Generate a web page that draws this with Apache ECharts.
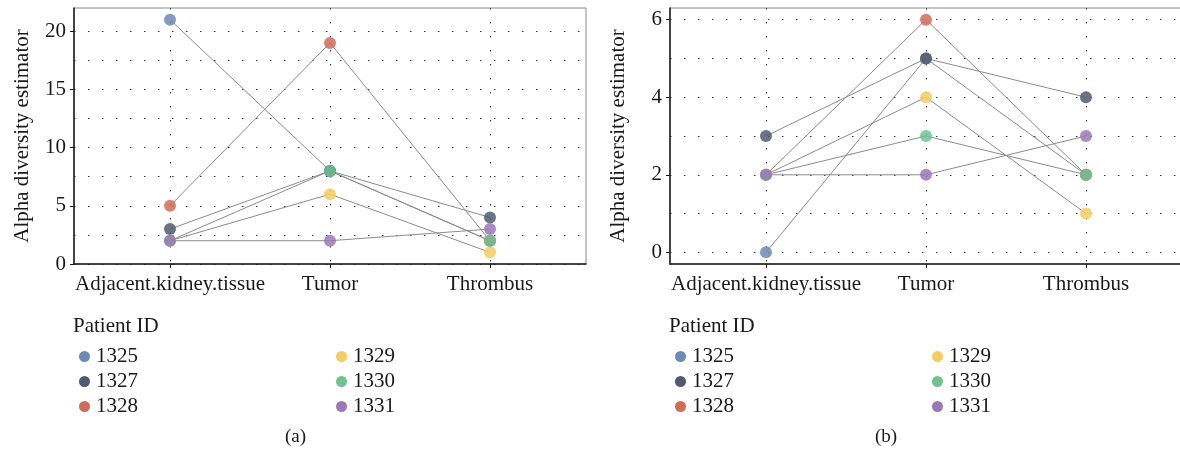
<!DOCTYPE html>
<html>
<head>
<meta charset="utf-8">
<script src="https://cdn.jsdelivr.net/npm/echarts@6/dist/echarts.min.js"></script>
<style>
  html, body { margin: 0; padding: 0; background: #fff; }
  #charts { width: 1180px; height: 457px; }
</style>
</head>
<body>
<div id="charts"></div>
<script>
// sample groups on the x axis (placed at 1, 2, 3)
var categories = ['Adjacent.kidney.tissue', 'Tumor', 'Thrombus'];
var patients = ['1325', '1327', '1328', '1329', '1330', '1331'];
var colors = ['#6d89b4', '#4f5c6e', '#cf6e58', '#f3cd63', '#6fc391', '#9b78b9'];

// panel (a): values per patient, order = categories
var valuesA = [
    [21, 8, 2],
    [3, 8, 4],
    [5, 19, 2],
    [2, 6, 1],
    [2, 8, 2],
    [2, 2, 3]
];
// panel (b)
var valuesB = [
    [0, 5, 2],
    [3, 5, 4],
    [2, 6, 2],
    [2, 4, 1],
    [2, 3, 2],
    [2, 2, 3]
];

var yTicksA = [0, 5, 10, 15, 20];
var yGridA = [0, 2.5, 5, 7.5, 10, 12.5, 15, 17.5, 20];
var yTicksB = [0, 2, 4, 6];
var yGridB = [0, 1, 2, 3, 4, 5, 6];

var font = 'Liberation Serif';
var fs = 21;
var dots = { color: '#3a3a3a', width: 1, type: [1.5, 12.5] };

function makeX(gridIndex) {
    return {
        type: 'value', gridIndex: gridIndex, min: 0.4, max: 3.6,
        axisLine: { show: true, onZero: false, lineStyle: { color: '#1a1a1a', width: 1.5 } },
        axisTick: { show: true, length: 4, customValues: [1, 2, 3], lineStyle: { color: '#1a1a1a' } },
        axisLabel: {
            customValues: [1, 2, 3], margin: 10,
            fontFamily: font, fontSize: fs, color: '#1a1a1a',
            formatter: function (v) { return categories[Math.round(v) - 1]; }
        },
        splitLine: { show: true, lineStyle: dots }
    };
}

function makeY(gridIndex, min, max, ticks) {
    return {
        type: 'value', gridIndex: gridIndex, min: min, max: max,
        name: 'Alpha diversity estimator', nameLocation: 'middle', nameGap: 41,
        nameTextStyle: { fontFamily: font, fontSize: fs, color: '#1a1a1a' },
        axisLine: { show: true, onZero: false, lineStyle: { color: '#1a1a1a', width: 1.5 } },
        axisTick: { show: true, length: 4, customValues: ticks, lineStyle: { color: '#1a1a1a' } },
        axisLabel: { customValues: ticks, margin: 8, fontFamily: font, fontSize: fs, color: '#1a1a1a' },
        splitLine: { show: false }
    };
}

// hidden axis only used for the dotted horizontal grid (majors + minors)
function makeYGrid(gridIndex, min, max, grid) {
    return {
        type: 'value', gridIndex: gridIndex, min: min, max: max,
        axisLine: { show: false },
        axisTick: { show: false, customValues: grid },
        axisLabel: { show: false },
        splitLine: { show: true, lineStyle: dots }
    };
}

function buildSeries(values, xi, yi) {
    var out = [];
    values.forEach(function (row, p) {
        var pts = row.map(function (v, c) { return [c + 1, v]; });
        out.push({
            type: 'line', xAxisIndex: xi, yAxisIndex: yi, data: pts,
            symbol: 'none', silent: true, z: 3,
            lineStyle: { color: '#8c8c8c', width: 1 }
        });
    });
    values.forEach(function (row, p) {
        var pts = row.map(function (v, c) { return [c + 1, v]; });
        out.push({
            type: 'scatter', name: patients[p], xAxisIndex: xi, yAxisIndex: yi, data: pts,
            symbolSize: 12, z: 4,
            itemStyle: { color: colors[p], opacity: 0.85 }
        });
    });
    return out;
}

function makeLegend(left, top, names) {
    return {
        left: left, top: top, orient: 'vertical', icon: 'circle',
        itemWidth: 11, itemHeight: 11, itemGap: 4,
        itemStyle: { opacity: 1 },
        textStyle: { fontFamily: font, fontSize: fs, color: '#1a1a1a', lineHeight: 21, padding: [0, 0, 0, 1] },
        data: names
    };
}

var titleStyle = { fontFamily: font, fontSize: fs, fontWeight: 'normal', color: '#1a1a1a' };
var capStyle = { fontFamily: font, fontSize: 19, fontWeight: 'normal', color: '#1a1a1a' };

var option = {
    backgroundColor: '#fff',
    animation: false,
    grid: [
        { left: 74, top: 8, width: 512, height: 256, show: true, borderColor: '#888', borderWidth: 1, outerBoundsMode: 'none' },
        { left: 670, top: 8, width: 512, height: 256, show: true, borderColor: '#888', borderWidth: 1, outerBoundsMode: 'none' }
    ],
    xAxis: [makeX(0), makeX(1)],
    yAxis: [
        makeY(0, 0, 22, yTicksA),
        makeYGrid(0, 0, 22, yGridA),
        makeY(1, -0.3, 6.3, yTicksB),
        makeYGrid(1, -0.3, 6.3, yGridB)
    ],
    legend: [
        makeLegend(74, 341, patients.slice(0, 3)),
        makeLegend(331, 341, patients.slice(3)),
        makeLegend(670, 341, patients.slice(0, 3)),
        makeLegend(927, 341, patients.slice(3))
    ],
    title: [
        { text: 'Patient ID', left: 73, top: 316, textStyle: titleStyle, padding: 0 },
        { text: 'Patient ID', left: 669, top: 316, textStyle: titleStyle, padding: 0 },
        { text: '(a)', left: 285, top: 428, textStyle: capStyle, padding: 0 },
        { text: '(b)', left: 875, top: 428, textStyle: capStyle, padding: 0 }
    ],
    series: buildSeries(valuesA, 0, 0).concat(buildSeries(valuesB, 1, 2))
};

window.onload = function () {
    var myChart = echarts.init(document.getElementById('charts'));
    myChart.setOption(option);
};
</script>
</body>
</html>
